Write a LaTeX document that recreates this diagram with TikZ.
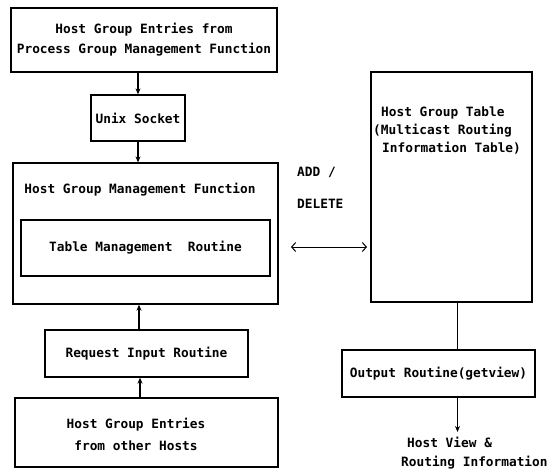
\documentclass[tikz,border=0pt]{standalone}
\usepackage{fontspec}
\setmonofont{DejaVu Sans Mono}
\usetikzlibrary{arrows.meta,calc}
\begin{document}
\begin{tikzpicture}[x=1pt,y=-1pt,
  every node/.style={font=\ttfamily\bfseries\fontsize{12.8}{20}\selectfont, inner sep=0pt},
  box/.style={draw, line width=1.3pt, minimum width=#1},
  lbl/.style={align=center},
  flow/.style={line width=1.3pt, -{Stealth[length=6pt,width=5pt]}},
  bidir/.style={line width=1pt, {Straight Barb[length=4pt,width=9pt]}-{Straight Barb[length=4pt,width=9pt]}}
]
\useasboundingbox (0,0) rectangle (552,472);

% left column
\node[box=266pt, minimum height=64pt, lbl] (top) at (144,40)
  {Host Group Entries from\\Process Group Management Function};
\node[box=94pt, minimum height=46pt] (unix) at (138,118) {Unix Socket};
\node[box=265pt, minimum height=141pt] (hgmf) at (145.5,233.5) {};
\node (hgmfl) at (140,190) {Host Group Management Function};
\node[box=249pt, minimum height=56pt] (tmr) at (145.5,248) {Table Management\ \ Routine};
\node[box=203pt, minimum height=47pt] (req) at (146.5,353.5) {Request Input Routine};
\node[box=263pt, minimum height=69pt] (bot) at (146.5,432.5) {};
\node[lbl, font=\ttfamily\bfseries\fontsize{12.8}{22}\selectfont] (botl) at (136,434)
  {Host Group Entries\\from other Hosts};

% right column
\node[box=161pt, minimum height=230pt] (tab) at (451.5,187) {};
\node[anchor=west, align=left, font=\ttfamily\bfseries\fontsize{12.8}{18}\selectfont] (tabl) at (373,130)
  {\hspace{8pt}Host Group Table\\(Multicast Routing\\\hspace{9pt}Information Table)};
\node[box=193pt, minimum height=47pt] (out) at (438.5,373.5) {Output Routine(getview)};
\node[anchor=west] (hv1) at (407,442) {Host View \&};
\node[anchor=west] (hv2) at (401,463) {Routing Information};

% ADD / DELETE
\node[anchor=west] (add) at (297,172) {ADD /};
\node[anchor=west] (del) at (297,204) {DELETE};
\coordinate (al) at (291,247);
\coordinate (ar) at (367,247);
\draw[bidir] (al) -- (ar);

% connectors
\draw[flow] (top.south -| unix.south) -- (unix.north);
\draw[flow] (unix.south) -- (unix.south |- hgmf.north);
\draw[flow] ([xshift=1pt]unix.south |- req.north) -- ([xshift=1pt]unix.south |- hgmf.south);
\draw[flow] ([xshift=2pt]unix.south |- bot.north) -- ([xshift=2pt]unix.south |- req.south);
\draw[line width=1.3pt] ([xshift=6pt]tab.south) -- ([xshift=6pt]tab.south |- out.north);
\coordinate (hvend) at ([xshift=6pt]tab.south |- 0,432);
\draw[flow] ([xshift=6pt]tab.south |- out.south) -- (hvend);
\end{tikzpicture}
\end{document}
